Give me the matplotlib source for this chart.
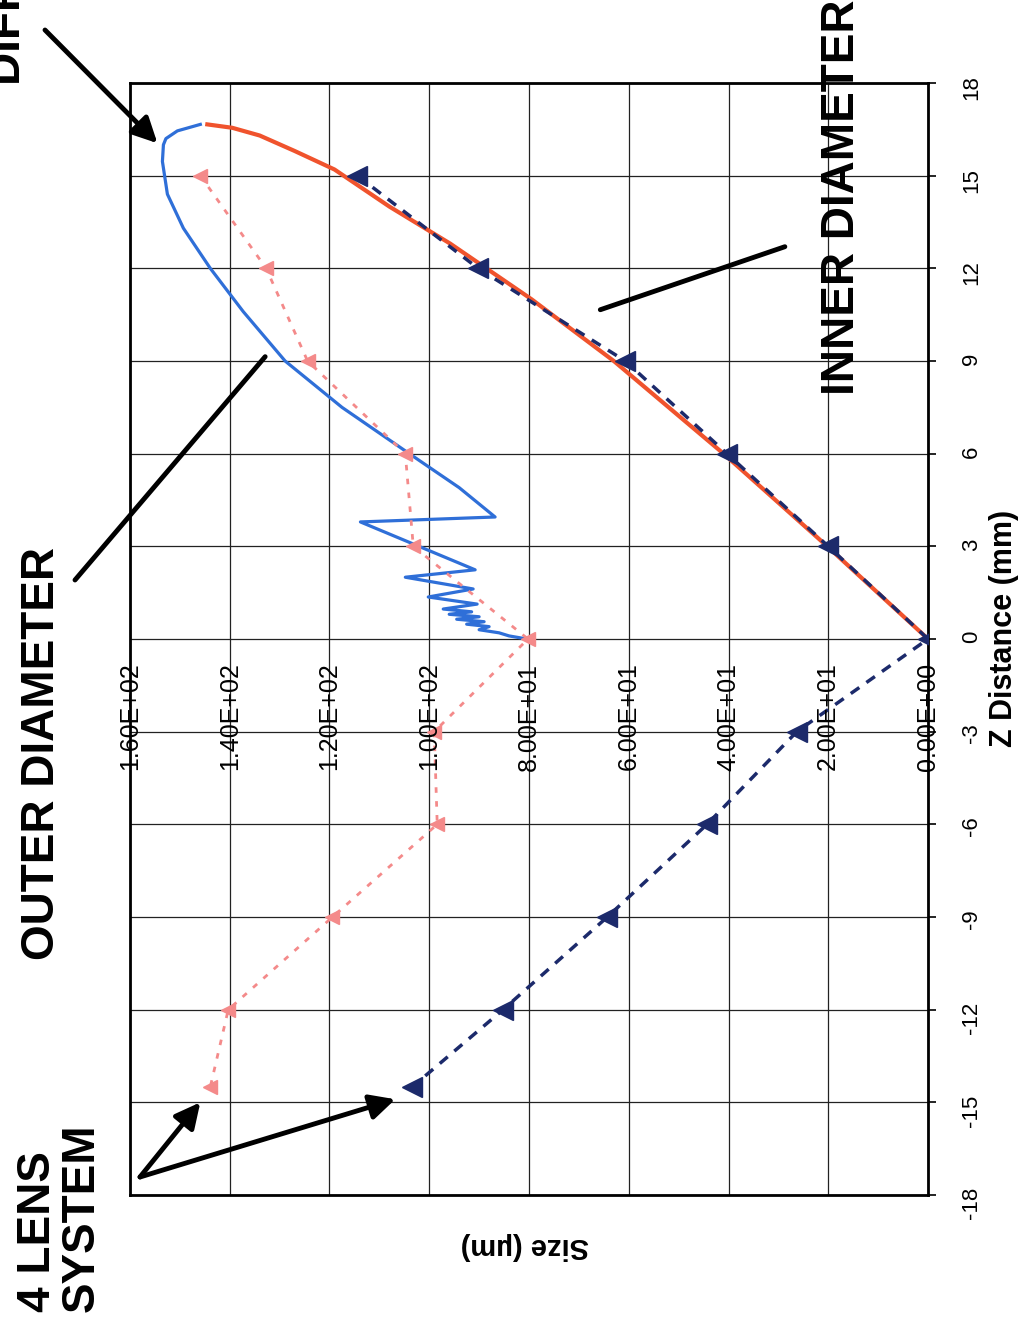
import matplotlib.pyplot as plt

plt.rcParams['font.family'] = ['Liberation Sans', 'DejaVu Sans']
plt.rcParams['axes.unicode_minus'] = False

# axis ticks
size_ticks = [0, 20, 40, 60, 80, 100, 120, 140, 160]
z_ticks = [-18, -15, -12, -9, -6, -3, 0, 3, 6, 9, 12, 15, 18]

# measured inner diameter (navy triangles)
inner_meas_z = [15, 12, 9, 6, 3, 0, -3, -6, -9, -12, -14.5]
inner_meas_size = [114.4, 90.2, 60.7, 40.3, 20.0, 0.0, 26.3, 44.3, 64.3, 85.2, 103.4]

# measured outer diameter (pink triangles)
outer_meas_z = [15, 12, 9, 6, 3, 0, -3, -6, -9, -12, -14.5]
outer_meas_size = [145.9, 132.7, 124.4, 104.8, 103.2, 80.2, 99.0, 98.4, 119.4, 140.3, 143.9]

# calculated inner diameter (orange line)
inner_calc_z = [0, 3, 6, 9, 11, 12.8, 14, 15.2, 15.8, 16.3, 16.55, 16.66]
inner_calc_size = [0.0, 20.2, 41.0, 63.0, 79.5, 95.8, 108.0, 119.0, 127.0, 134.0, 139.5, 144.5]

# calculated outer diameter (blue line)
outer_calc_z = [16.66, 16.45, 16.2, 16.0, 15.46, 14.4, 13.3, 12.0, 10.6, 9.0, 7.5, 6.0,
                4.9, 3.95, 3.79, 2.24, 2.0, 1.62, 1.36, 1.13, 0.97, 0.88, 0.8, 0.72,
                0.64, 0.56, 0.48, 0.4, 0.3, 0.2, 0.1, 0.0]
outer_calc_size = [145.9, 150.5, 152.8, 153.3, 153.5, 152.5, 149.3, 143.9, 137.3, 128.9, 117.5, 104.0,
                   94.0, 86.8, 113.8, 90.8, 104.8, 91.2, 100.2, 90.4, 97.2, 91.5, 96.0, 90.0,
                   94.5, 89.0, 92.5, 88.0, 90.0, 86.0, 84.0, 80.4]

W, H = 1021, 1326


def px(x, y):
    # pixel position (from top left) -> figure fraction
    return x / W, 1 - y / H


fig = plt.figure(figsize=(W / 100, H / 100), dpi=100)
ax = fig.add_axes([130 / W, 1 - 1195 / H, 798 / W, 1112 / H])

ax.plot(outer_calc_size, outer_calc_z, color='#2f6fd8', lw=2.3, zorder=3)
ax.plot(inner_calc_size, inner_calc_z, color='#f0532d', lw=3, zorder=3)
ax.plot(outer_meas_size, outer_meas_z, color='#f48a8a', ls=(0, (2, 3)), lw=2,
        marker='<', ms=10, zorder=4)
ax.plot(inner_meas_size, inner_meas_z, color='#1c2a6b', ls=(0, (3, 2.5)), lw=2.5,
        marker='<', ms=14, zorder=5)

ax.set_xlim(160, 0)
ax.set_ylim(-18, 18)
ax.set_xticks(size_ticks)
ax.set_yticks(z_ticks)
ax.grid(True, color='#222222', lw=0.9)
ax.set_axisbelow(True)
ax.tick_params(axis='x', length=0, labelbottom=False)
ax.yaxis.tick_right()
ax.tick_params(axis='y', direction='out', length=6, width=1.2, labelsize=16,
               labelrotation=90, pad=18)
for sp in ax.spines.values():
    sp.set_linewidth(2)

# size labels along the Z=0 line
for s in size_ticks:
    ax.annotate('%.2E' % s, xy=(s, 0), xytext=(0, -17), textcoords='offset points',
                rotation=90, ha='center', va='top', fontsize=18, zorder=6)

fig.text(*px(1004, 628), 'Z Distance (mm)', rotation=90, ha='center', va='center',
         fontsize=22, weight='bold')
fig.text(*px(525, 1246), 'Size (µm)', rotation=180, ha='center', va='center',
         fontsize=21, weight='bold')

# annotations
big = dict(fontsize=33, weight='bold', rotation=90)
fig.text(*px(42, 753), 'OUTER DIAMETER', ha='center', va='center', **big)
fig.text(*px(842, 395), 'INNER DIAMETER', ha='center', va='bottom', **big)
fig.text(*px(60, 1312), '4 LENS\nSYSTEM', ha='center', va='bottom',
         multialignment='left', linespacing=1.0, **big)
# cut off at the image edge, as in the original
fig.text(*px(8, 85), 'DIFFRACTION LIMIT', ha='center', va='bottom', **big)

arrow = dict(arrowstyle='-|>', lw=3.5, color='black', mutation_scale=38,
             shrinkA=0, shrinkB=0)
line = dict(arrowstyle='-', lw=3.5, color='black', shrinkA=0, shrinkB=0)

ax.annotate('', xy=(154.5, 16.05), xytext=px(45, 30), textcoords='figure fraction',
            arrowprops=arrow, annotation_clip=False)
ax.annotate('', xy=(145.9, -15.0), xytext=px(140, 1177), textcoords='figure fraction',
            arrowprops=arrow, annotation_clip=False)
ax.annotate('', xy=(106.8, -14.9), xytext=px(140, 1177), textcoords='figure fraction',
            arrowprops=arrow, annotation_clip=False)
ax.annotate('', xy=(132.9, 9.14), xytext=px(75, 580), textcoords='figure fraction',
            arrowprops=line, annotation_clip=False)
ax.annotate('', xy=(65.7, 10.66), xytext=(28.7, 12.7),
            arrowprops=line, annotation_clip=False)

fig.savefig('out.png', dpi=100)
